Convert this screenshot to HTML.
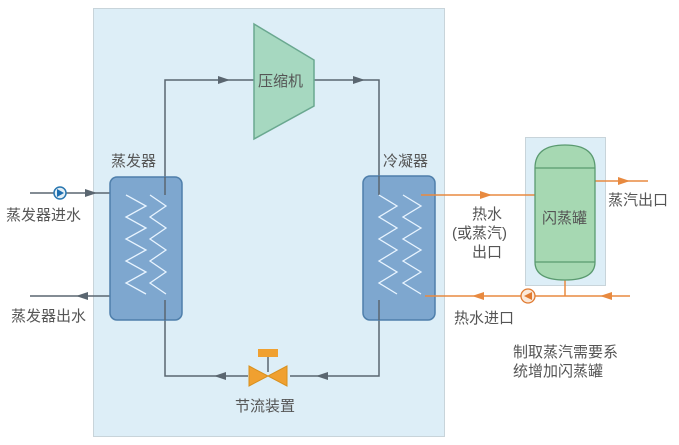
<!DOCTYPE html>
<html><head><meta charset="utf-8"><style>
body{margin:0;background:#fff;}
svg text{font-family:"Liberation Sans","Noto Sans CJK SC",sans-serif;fill:#555;font-size:15px;}
</style></head><body>
<svg width="679" height="440" viewBox="0 0 679 440" xmlns="http://www.w3.org/2000/svg">
<rect x="0" y="0" width="679" height="440" fill="#fff"/>
<rect x="93.5" y="8.5" width="351" height="428" fill="#ddeef7" stroke="#c8d4da"/>
<rect x="525.5" y="137.5" width="80" height="148" fill="#ddeef7" stroke="#c8d4da"/>
<g stroke="#5a6670" stroke-width="1.5" fill="none">
<polyline points="165,177 165,80 254,80"/>
<polyline points="314,80 379,80 379,177"/>
<polyline points="379,320 379,376 290,376"/>
<polyline points="248,376 165,376 165,320"/>
<line x1="268" y1="357" x2="268" y2="372"/>
<line x1="30" y1="193" x2="125" y2="193"/>
<line x1="30" y1="296" x2="125" y2="296"/>
</g>
<g fill="#5a6670">
<polygon points="218,76 230,80 218,84"/>
<polygon points="353,76 365,80 353,84"/>
<polygon points="328,372 316,376 328,380"/>
<polygon points="226,372 214,376 226,380"/>
<polygon points="85,189 97,193 85,197"/>
<polygon points="88,292 76,296 88,300"/>
</g>
<circle cx="60" cy="193" r="6" fill="#e3eef5" stroke="#2a77b0" stroke-width="1.5"/>
<polygon points="57,189 64,193 57,197" fill="#1e6fb0"/>
<polygon points="254,24 314,60 314,106 254,139" fill="#a6d8c0" stroke="#6aa890" stroke-width="1.5"/>
<text x="258" y="86">压缩机</text>
<rect x="110" y="177" width="72" height="143" rx="7" fill="#7ea7cf" stroke="#4f7fab" stroke-width="1.5"/>
<rect x="363" y="176" width="72" height="144" rx="7" fill="#7ea7cf" stroke="#4f7fab" stroke-width="1.5"/>
<g stroke="#5a6670" stroke-width="1.5"><line x1="165" y1="177" x2="165" y2="195"/><line x1="165" y1="300" x2="165" y2="320"/><line x1="379" y1="176" x2="379" y2="195"/><line x1="379" y1="300" x2="379" y2="320"/></g>
<g stroke="#e8f4ff" stroke-width="1.3" fill="none">
<polyline points="126,195 146,206 126,217 146,228 126,239 146,250 126,261 146,272 126,283 146,294"/>
<polyline points="150,195 166,206 150,217 166,228 150,239 166,250 150,261 166,272 150,283 166,294"/>
<polyline points="379,195 397,206 379,217 397,228 379,239 397,250 379,261 397,272 379,283 397,294"/>
<polyline points="403,195 421,206 403,217 421,228 403,239 421,250 403,261 421,272 403,283 421,294"/>
</g>
<text x="111" y="166">蒸发器</text>
<text x="383" y="166">冷凝器</text>
<text x="6" y="220">蒸发器进水</text>
<text x="11" y="321">蒸发器出水</text>
<rect x="258" y="349" width="20" height="8" fill="#f0a030"/>
<polygon points="249,366 268,376 249,386" fill="#f0a030" stroke="#d8901e"/>
<polygon points="287,366 268,376 287,386" fill="#f0a030" stroke="#d8901e"/>
<text x="235" y="411">节流装置</text>
<g stroke="#e88a40" stroke-width="1.5" fill="none">
<line x1="421" y1="195" x2="535" y2="195"/>
<line x1="425" y1="296" x2="630" y2="296"/>
<line x1="595" y1="181" x2="648" y2="181"/>
<line x1="565" y1="280" x2="565" y2="296"/>
</g>
<g fill="#e88a40">
<polygon points="480,191 492,195 480,199"/>
<polygon points="484,292 472,296 484,300"/>
<polygon points="612,292 600,296 612,300"/>
<polygon points="618,177 630,181 618,185"/>
</g>
<circle cx="528" cy="296" r="7" fill="#fbe8d8" stroke="#e07a30" stroke-width="1.3"/>
<polygon points="532,292 524,296 532,300" fill="#e07a30"/>
<path d="M535,168 Q535,145 565,145 Q595,145 595,168 L595,262 Q595,280 565,280 Q535,280 535,262 Z" fill="#a6d8b2" stroke="#5a9a70" stroke-width="1.3"/>
<line x1="535" y1="168" x2="595" y2="168" stroke="#5a9a70" stroke-width="1.3"/>
<line x1="535" y1="262" x2="595" y2="262" stroke="#5a9a70" stroke-width="1.3"/>
<text x="542" y="223">闪蒸罐</text>
<text x="608" y="205">蒸汽出口</text>
<text x="472" y="219">热水</text>
<text x="452" y="238">(或蒸汽)</text>
<text x="472" y="257">出口</text>
<text x="454" y="323">热水进口</text>
<text x="513" y="357">制取蒸汽需要系</text>
<text x="513" y="376">统增加闪蒸罐</text>
</svg>
</body></html>
